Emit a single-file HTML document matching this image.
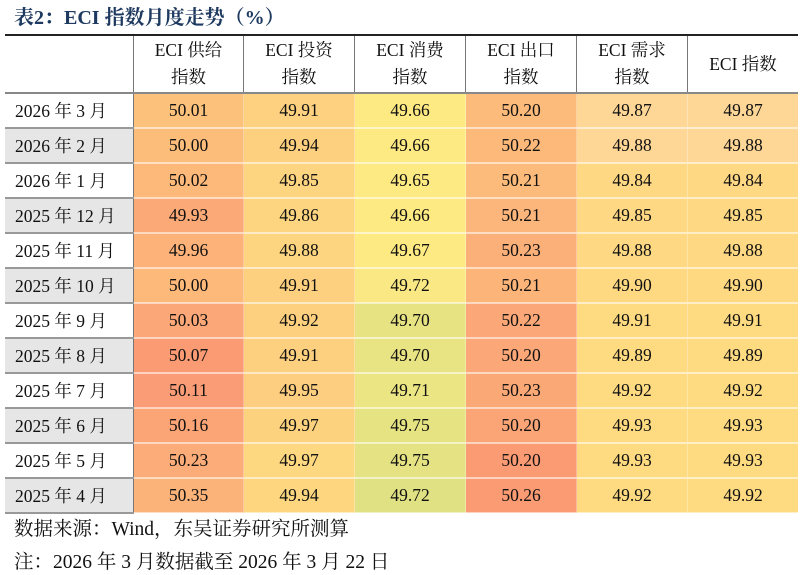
<!DOCTYPE html>
<html><head><meta charset="utf-8">
<style>
body{margin:0;width:801px;height:575px;background:#fff;font-family:"Liberation Serif","Noto Serif CJK SC",serif;position:relative;overflow:hidden}
#title{position:absolute;left:14px;top:1px;font-size:20px;font-weight:bold;color:#1f3a60;font-family:"Liberation Serif","Noto Serif CJK SC",serif}
table{position:absolute;left:5px;top:34px;border-collapse:collapse;border-top:2px solid #222;border-bottom:2px solid #222}
td,th{padding:0;text-align:center;font-size:17.5px;color:#111;font-weight:normal}
th{height:56px;border-left:1.5px solid #777;border-bottom:2px solid #888;line-height:27px}
th.first{border-left:none}
td{height:33px;border-bottom:2px solid rgba(255,255,255,0.55);border-left:1px solid rgba(255,255,255,0.3)}
td.lab{text-align:left;padding-left:10px;border-left:none;border-right:1.5px solid #777;border-bottom:2px solid #999}
.foot{position:absolute;left:14px;font-size:19.5px;color:#111}
</style></head><body>
<div id="title">表2：ECI 指数月度走势（%）</div>
<table id="t"><thead><tr>
<th class="first" style="width:128px"></th>
<th style="width:109px">ECI 供给<br>指数</th>
<th style="width:110px">ECI 投资<br>指数</th>
<th style="width:110px">ECI 消费<br>指数</th>
<th style="width:110px">ECI 出口<br>指数</th>
<th style="width:110px">ECI 需求<br>指数</th>
<th style="width:110px">ECI 指数</th>
</tr></thead><tbody id="tb"></tbody></table>
<div class="foot" style="top:513px">数据来源：Wind，东吴证券研究所测算</div>
<div class="foot" style="top:546px">注：2026 年 3 月数据截至 2026 年 3 月 22 日</div>
<script>
const months=["2026 年 3 月","2026 年 2 月","2026 年 1 月","2025 年 12 月","2025 年 11 月","2025 年 10 月","2025 年 9 月","2025 年 8 月","2025 年 7 月","2025 年 6 月","2025 年 5 月","2025 年 4 月"];
const supply=[50.01,50.00,50.02,49.93,49.96,50.00,50.03,50.07,50.11,50.16,50.23,50.35];
const investment=[49.91,49.94,49.85,49.86,49.88,49.91,49.92,49.91,49.95,49.97,49.97,49.94];
const consumption=[49.66,49.66,49.65,49.66,49.67,49.72,49.70,49.70,49.71,49.75,49.75,49.72];
const exportIdx=[50.20,50.22,50.21,50.21,50.23,50.21,50.22,50.20,50.23,50.20,50.20,50.26];
const demand=[49.87,49.88,49.84,49.85,49.88,49.90,49.91,49.89,49.92,49.93,49.93,49.92];
const eci=[49.87,49.88,49.84,49.85,49.88,49.90,49.91,49.89,49.92,49.93,49.93,49.92];
const cols=[supply,investment,consumption,exportIdx,demand,eci];
const colNames=['supply','investment','consumption','export','demand','eci'];
const fills=[
["#fcc27c","#fcbd7b","#fcb97a","#fbaa77","#fcb279","#fcb97a","#fba777","#fa9b74","#fa9c75","#fba577","#fcac78","#fcb37a"],
["#fdd17f","#fdd07f","#fdd480","#fdd580","#fdd580","#fdd07f","#fdd07f","#fdd07f","#fdce7f","#fdd27f","#fdd880","#fdd67f"],
["#feea83","#feea83","#feea83","#feea83","#feea83","#f9e883","#e7e383","#e9e483","#ebe583","#e6e383","#e4e283","#e0e183"],
["#fcbb7b","#fcb97a","#fcbb7a","#fcb57a","#fcb079","#fcb479","#fba777","#fba777","#fba877","#fba577","#fa9b74","#fa9b74"],
["#fed797","#fed797","#fed882","#fed882","#fed882","#fed982","#feda81","#feda81","#fedb81","#fedb81","#fedb81","#fedb81"],
["#fed797","#fed797","#fed882","#fed882","#fed882","#fed982","#feda81","#feda81","#fedb81","#fedb81","#fedb81","#fedb81"]];
const tb=document.getElementById('tb');
months.forEach((m,i)=>{
  const tr=document.createElement('tr');
  
  
  const l=document.createElement('td');l.className='lab';l.textContent=m;
  l.style.background=i%2?'#e6e6e6':'#fff';
  
  
  tr.appendChild(l);
  cols.forEach((c,j)=>{
    const td=document.createElement('td');
    td.textContent=c[i].toFixed(2);
    td.style.background=fills[j][i];
    
    
    tr.appendChild(td);
  });
  tb.appendChild(tr);
});
</script>
</body></html>
